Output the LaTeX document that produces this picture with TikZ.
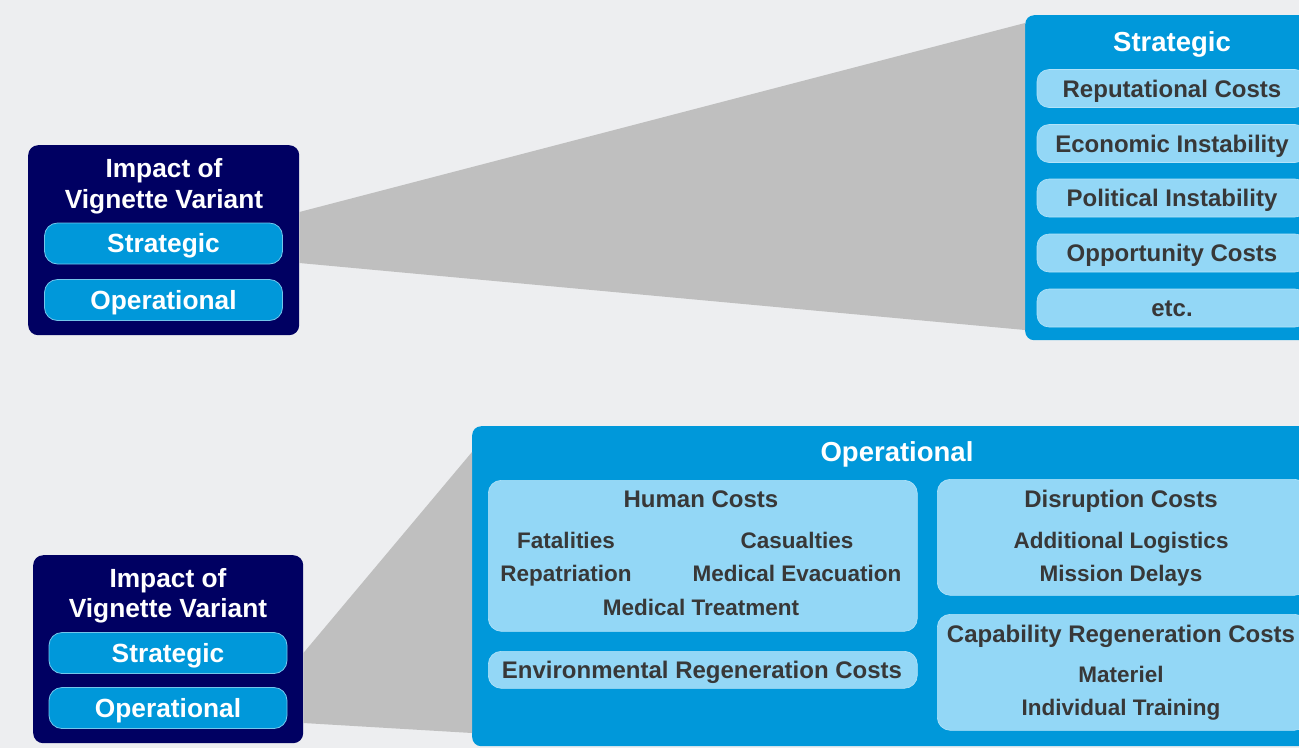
\documentclass[tikz,border=0pt]{standalone}
\usepackage{fontspec}
\setmainfont{Liberation Sans}
\usepackage{xcolor}
\usepackage{tikz}

\definecolor{bgGrey}{HTML}{EDEEF0}
\definecolor{navyBlue}{HTML}{000062}
\definecolor{midBlue}{HTML}{0098DA}
\definecolor{paleBlue}{HTML}{93D7F6}
\definecolor{wedgeGrey}{HTML}{BFBFBF}
\definecolor{darkText}{HTML}{383838}

\tikzset{
  navybox/.style={fill=navyBlue, rounded corners=10, inner sep=0, anchor=north west},
  bigbox/.style={fill=midBlue, rounded corners=9, inner sep=0, anchor=north west},
  palebox/.style={fill=paleBlue, draw=paleBlue!70!white, line width=0.6, rounded corners=13, inner sep=0, anchor=north west},
  btn/.style={fill=midBlue, draw=midBlue!55!white, line width=0.8, rounded corners=13, inner sep=0,
    minimum width=238, minimum height=41, text=white, font=\fontsize{26.3}{28}\selectfont\bfseries,
    text height=18.8pt, text depth=0pt},
  item/.style={fill=paleBlue, draw=paleBlue!70!white, line width=0.6, rounded corners=12, inner sep=0,
    minimum width=270, minimum height=38, text=darkText, font=\fontsize{24}{26}\selectfont\bfseries,
    text height=17.3pt, text depth=0pt},
  wtitle/.style={text=white, inner sep=0, font=\fontsize{26.3}{28}\selectfont\bfseries, text height=18.8pt, text depth=0pt},
  head/.style={text=white, inner sep=0, font=\fontsize{27.5}{30}\selectfont\bfseries, text height=19.8pt, text depth=0pt},
  sub/.style={text=darkText, inner sep=0, font=\fontsize{24}{26}\selectfont\bfseries, text height=17.3pt, text depth=0pt},
  leaf/.style={text=darkText, inner sep=0, font=\fontsize{22.5}{24}\selectfont\bfseries, text height=16.2pt, text depth=0pt},
  wedge/.style={fill=wedgeGrey}
}

\begin{document}
\begin{tikzpicture}[x=1pt,y=1pt,yscale=-1,xscale=1]
\useasboundingbox (0,0) rectangle (1299,748);
\clip (0,0) rectangle (1299,748);
\fill[bgGrey] (0,0) rectangle (1299,748);

% upper impact box
\node[navybox, minimum width=271, minimum height=190] (impactA) at (28,145) {};
\node[wtitle] (impactATop) at (164,168) {Impact of};
\node[wtitle] (impactABot) at (164,199) {Vignette Variant};
\node[btn] (stratA) at (163.5,243.5) {Strategic};
\node[btn] (operA) at (163.5,300) {Operational};

% lower impact box
\node[navybox, minimum width=270, minimum height=188] (impactB) at (33,555) {};
\node[wtitle] (impactBTop) at (168,578) {Impact of};
\node[wtitle] (impactBBot) at (168,608) {Vignette Variant};
\node[btn] (stratB) at (168,653) {Strategic};
\node[btn] (operB) at (168,708) {Operational};

% Strategic panel
\node[bigbox, minimum width=300, minimum height=325] (stratBox) at (1025,15) {};
\node[head] (stratHead) at (1172,42) {Strategic};
\foreach \y/\t [count=\i] in {88.5/Reputational Costs, 143.5/Economic Instability, 198/Political Instability, 253/Opportunity Costs, 308/etc.}
  \node[item] (sItem\i) at (1172,\y) {\t};

% Operational panel
\node[bigbox, minimum width=850, minimum height=320] (operBox) at (472,426) {};
\node[head] (operHead) at (897,452) {Operational};

% Human Costs
\node[palebox, minimum width=429, minimum height=151] (humanBox) at (488,480) {};
\node[sub] (humanHead) at (701,499) {Human Costs};
\node[leaf] (fatal) at (566,540) {Fatalities};
\node[leaf] (casual) at (797,540) {Casualties};
\node[leaf] (repat) at (566,573) {Repatriation};
\node[leaf] (medEvac) at (797,573) {Medical Evacuation};
\node[leaf] (medTreat) at (701,607) {Medical Treatment};

% Environmental
\node[palebox, minimum width=429, minimum height=37] (envBox) at (488,651) {};
\node[sub] (envText) at (702,670) {Environmental Regeneration Costs};

% Disruption Costs
\node[palebox, minimum width=370, minimum height=116] (disrBox) at (937,479) {};
\node[sub] (disrHead) at (1121,499) {Disruption Costs};
\node[leaf] (addLog) at (1121,540) {Additional Logistics};
\node[leaf] (misDel) at (1121,573) {Mission Delays};

% Capability Regeneration Costs
\node[palebox, minimum width=370, minimum height=116] (capBox) at (937,614) {};
\node[sub] (capHead) at (1121,634) {Capability Regeneration Costs};
\node[leaf] (materiel) at (1121,674) {Materiel};
\node[leaf] (indTrain) at (1121,707) {Individual Training};

% wedges
\fill[wedge] (impactA.east |- 0,212) -- (stratBox.west |- 0,23) -- (stratBox.west |- 0,330) -- (impactA.east |- 0,263) -- cycle;
\fill[wedge] (impactB.east |- 0,653) -- (operBox.west |- 0,452) -- (operBox.west |- 0,733) -- (impactB.east |- 0,723) -- cycle;
\end{tikzpicture}
\end{document}
